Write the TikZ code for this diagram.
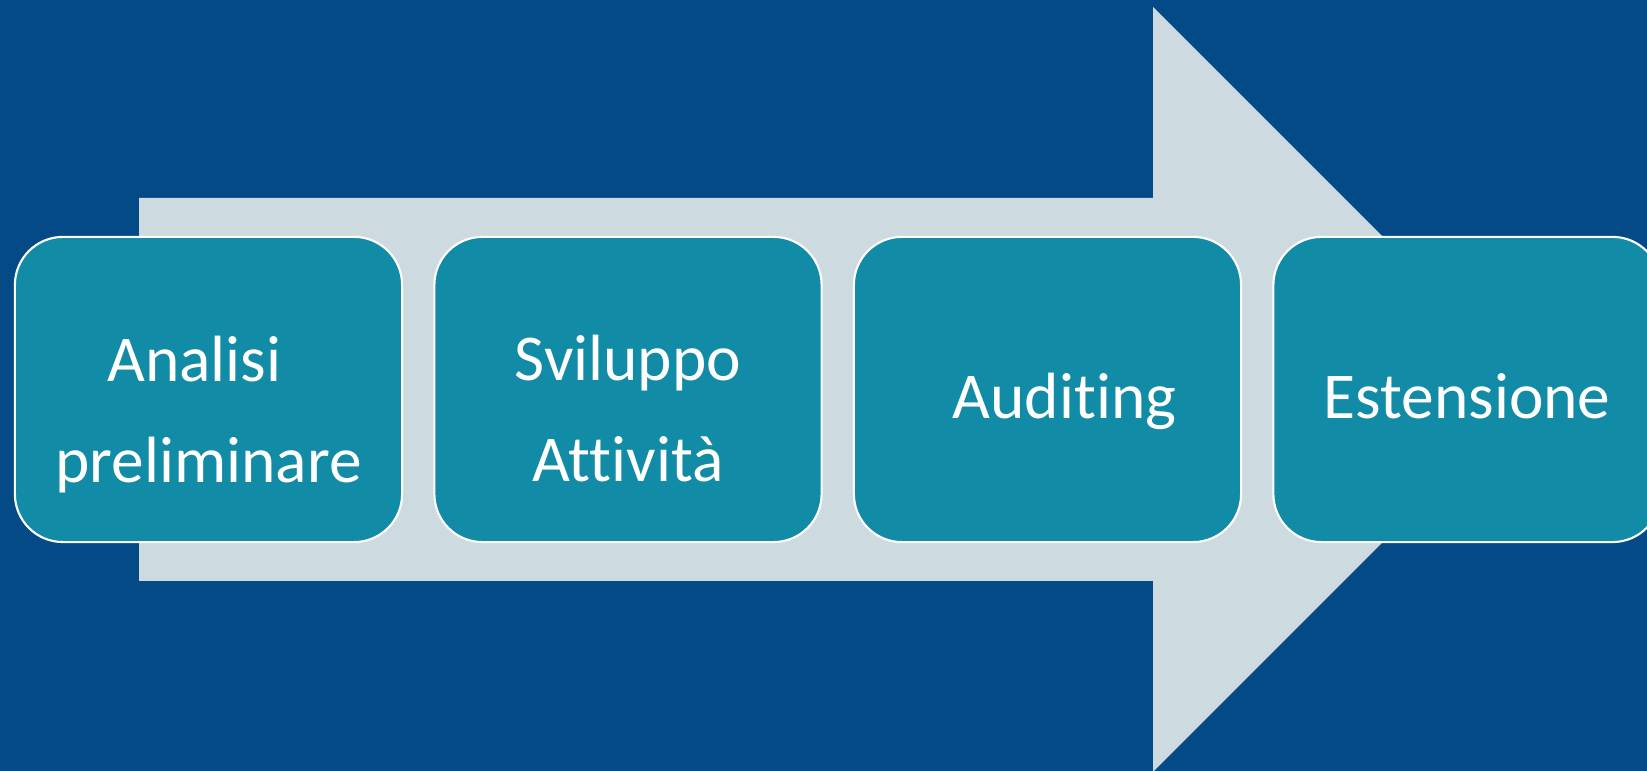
\documentclass[tikz,border=0pt]{standalone}
\usepackage{fontspec}
\setmainfont{Carlito}[Ligatures=CommonOff]
\definecolor{bgblue}{HTML}{034A87}
\definecolor{arrowgrey}{HTML}{CDDAE0}
\definecolor{stageteal}{HTML}{128BA6}

\begin{document}
\begin{tikzpicture}[x=0.01cm,y=-0.01cm,
	stage/.style={draw=white, line width=0.6pt, fill=stageteal, rounded corners=0.48cm,
		minimum width=3.87cm, minimum height=3.05cm, inner sep=0pt},
	lbl/.style={text=white, align=center, inner sep=0pt,
		font=\fontsize{18.6}{28.5}\selectfont}]
	\clip (0,0) rectangle (1647,771);
	\fill[bgblue] (0,0) rectangle (1647,771);
	% big arrow behind the stages
	\fill[arrowgrey] (139,198) -- (1153,198) -- (1153,7) -- (1535.5,389.5) -- (1153,772) -- (1153,581) -- (139,581) -- cycle;
	\node[stage] (a1) at (208.5,389.5) {};
	\node[stage] (a2) at (628,389.5) {};
	\node[stage] (a3) at (1047.5,389.5) {};
	\node[stage] (a4) at (1467,389.5) {};
	\node[lbl] (t1) at ([yshift=-0.25cm]a1.center) {Analisi\hspace*{0.28cm}\\preliminare};
	\node[lbl] (t2) at ([yshift=-0.19cm]a2.center) {Sviluppo\\Attività};
	\node[lbl] (t3) at ([xshift=0.17cm,yshift=-0.12cm]a3.center) {Auditing};
	\node[lbl] (t4) at ([yshift=-0.07cm]a4.center) {Estensione};
\end{tikzpicture}
\end{document}
